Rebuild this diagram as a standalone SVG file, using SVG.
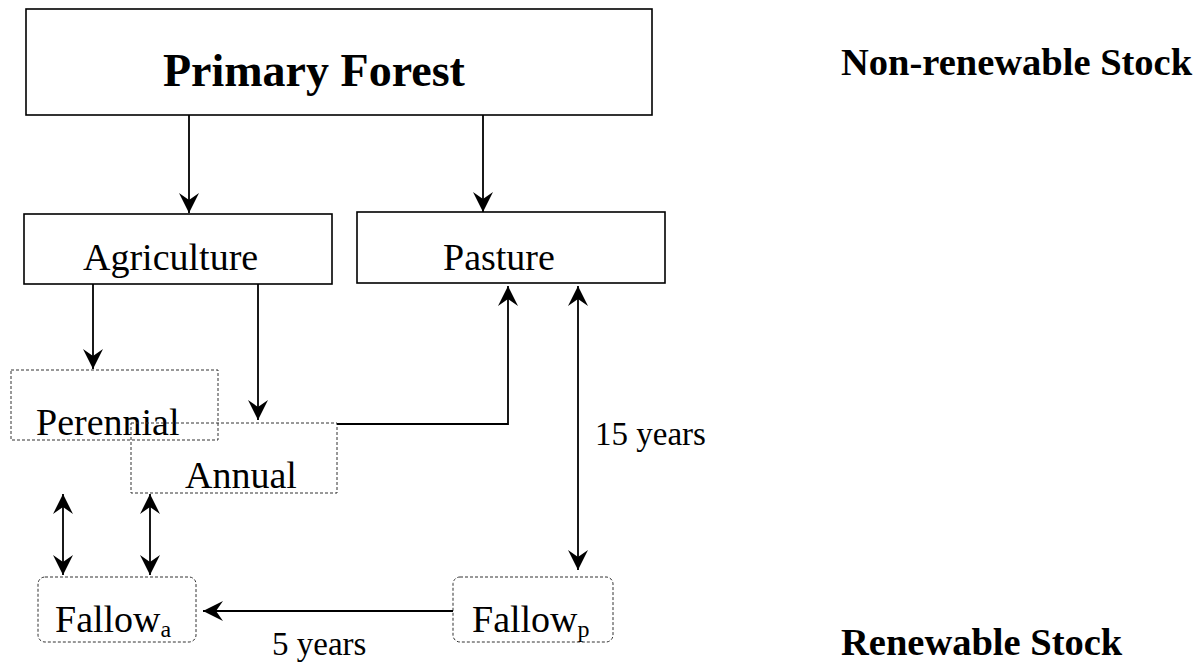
<svg xmlns="http://www.w3.org/2000/svg" width="1201" height="663" viewBox="0 0 1201 663">
<style>
.solid{fill:none;stroke:#000;stroke-width:1.6}
.dash{fill:none;stroke:#333;stroke-width:1;stroke-dasharray:3,2}
.con{fill:none;stroke:#000;stroke-width:1.8}
.t{font-family:"Liberation Serif","Times New Roman",serif;fill:#000}
.b{font-weight:bold}
</style>
<defs>
<marker id="ah" markerUnits="userSpaceOnUse" markerWidth="24" markerHeight="24" viewBox="-22 -12 24 24" refX="0" refY="0" orient="auto-start-reverse">
<path d="M0,0 L-20,-10 L-13,0 L-20,10 Z" fill="#000"/>
</marker>
</defs>
<rect width="1201" height="663" fill="#fff"/>
<g id="primary-forest">
<rect class="solid" x="26" y="9" width="626" height="106"/>
<text class="t b" x="163" y="86" font-size="46">Primary Forest</text>
</g>
<g id="agriculture">
<rect class="solid" x="24" y="214" width="308" height="70"/>
<text class="t" x="83" y="270" font-size="38">Agriculture</text>
</g>
<g id="pasture">
<rect class="solid" x="357" y="212" width="308" height="71"/>
<text class="t" x="443" y="270" font-size="38">Pasture</text>
</g>
<g id="perennial">
<rect class="dash" x="11" y="370" width="207" height="70"/>
<text class="t" x="36" y="435" font-size="38">Perennial</text>
</g>
<g id="annual">
<rect class="dash" x="131" y="423" width="206" height="70"/>
<text class="t" x="185" y="488" font-size="38">Annual</text>
</g>
<g id="fallow-a">
<rect class="dash" x="38" y="577" width="158" height="65" rx="7"/>
<text class="t" x="55" y="632" font-size="38">Fallow<tspan font-size="24" dy="5">a</tspan></text>
</g>
<g id="fallow-p">
<rect class="dash" x="453" y="577" width="160" height="65" rx="7"/>
<text class="t" x="472" y="632" font-size="38">Fallow<tspan font-size="24" dy="5">p</tspan></text>
</g>
<g id="connectors">
<line class="con" x1="189" y1="115" x2="189" y2="213" marker-end="url(#ah)"/>
<line class="con" x1="483" y1="115" x2="483" y2="212" marker-end="url(#ah)"/>
<line class="con" x1="93" y1="284" x2="93" y2="369" marker-end="url(#ah)"/>
<line class="con" x1="258" y1="284" x2="258" y2="420" marker-end="url(#ah)"/>
<polyline class="con" points="337,424 508,424 508,286" marker-end="url(#ah)"/>
<line class="con" x1="578" y1="286" x2="578" y2="570" marker-start="url(#ah)" marker-end="url(#ah)"/>
<line class="con" x1="63" y1="494" x2="63" y2="575" marker-start="url(#ah)" marker-end="url(#ah)"/>
<line class="con" x1="150" y1="494" x2="150" y2="575" marker-start="url(#ah)" marker-end="url(#ah)"/>
<line class="con" x1="453" y1="611" x2="203" y2="611" marker-end="url(#ah)"/>
</g>
<g id="labels">
<text class="t" x="595" y="445" font-size="33">15 years</text>
<text class="t" x="272" y="655" font-size="33">5 years</text>
<text class="t b" x="841" y="75" font-size="38.5">Non-renewable Stock</text>
<text class="t b" x="841" y="655" font-size="38.5">Renewable Stock</text>
</g>
</svg>
